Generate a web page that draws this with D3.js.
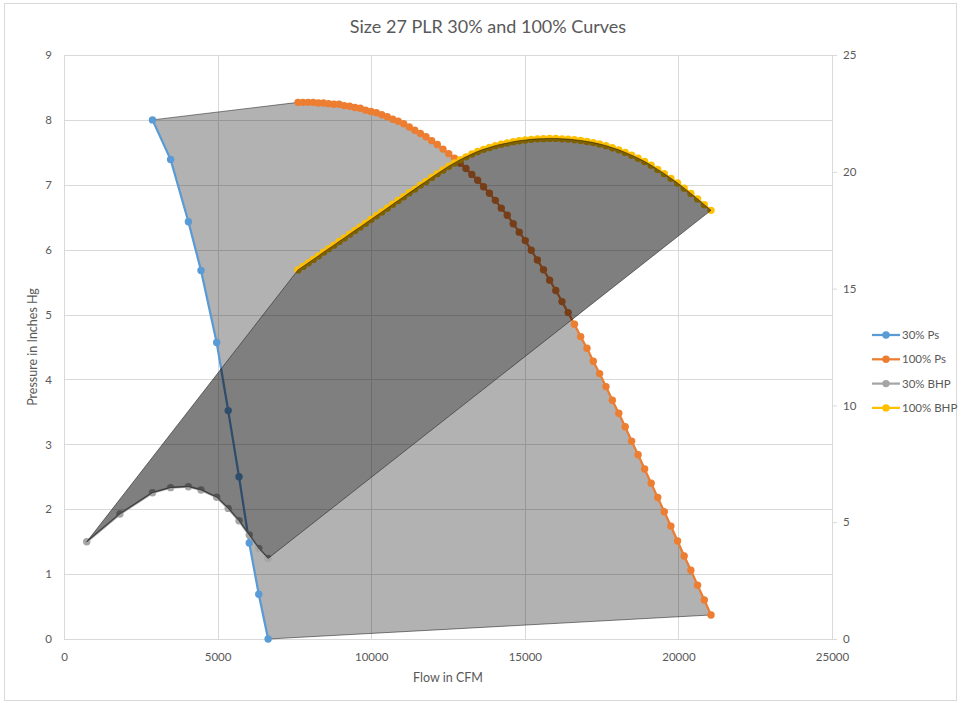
<!DOCTYPE html>
<html><head><meta charset="utf-8">
<script src="https://cdn.jsdelivr.net/npm/d3@7"></script>
<style>body{margin:0;background:#fff;} text{font-family:Lato,"Open Sans",sans-serif;}</style>
</head><body><svg id="c" width="962" height="703"></svg>
<script>
// ---- data ----
const xTicks = [0, 5000, 10000, 15000, 20000, 25000];
const yTicksL = [0, 1, 2, 3, 4, 5, 6, 7, 8, 9];
const yTicksR = [0, 5, 10, 15, 20, 25];
const seriesNames = ["30% Ps", "100% Ps", "30% BHP", "100% BHP"];
const seriesColors = ["#5B9BD5", "#ED7D31", "#A5A5A5", "#FFC000"];

const flow30 = [740, 1820, 2880, 3470, 4050, 4460, 4970, 5345, 5697, 6030, 6340, 6645];
const ps30   = [null, null, 8.00, 7.39, 6.43, 5.68, 4.57, 3.52, 2.50, 1.48, 0.69, 0.00];
const bhp30  = [4.16, 5.35, 6.26, 6.48, 6.52, 6.38, 6.07, 5.59, 5.06, 4.45, 3.88, 3.45];

const flow100 = [7617,7781,7947,8113,8279,8447,8615,8785,8955,9126,
  9297,9470,9643,9817,9992,10167,10344,10521,10699,10878,
  11057,11238,11419,11601,11784,11968,12152,12337,12523,12710,
  12898,13086,13276,13466,13657,13848,14041,14234,14428,14623,
  14819,15015,15212,15410,15609,15809,16009,16211,16413,16616,
  16819,17024,17229,17435,17642,17850,18059,18268,18478,18689,
  18901,19113,19327,19541,19756,19972,20188,20406,20624,20843,21061];
const ps100 = [8.27,8.27,8.27,8.27,8.26,8.26,8.25,8.24,8.24,8.22,
  8.21,8.19,8.18,8.15,8.13,8.11,8.08,8.05,8.01,7.98,
  7.94,7.89,7.84,7.79,7.74,7.68,7.62,7.55,7.48,7.41,
  7.33,7.25,7.16,7.07,6.97,6.87,6.76,6.64,6.53,6.40,
  6.27,6.14,5.99,5.84,5.69,5.53,5.37,5.20,5.03,4.85,
  4.66,4.48,4.28,4.09,3.89,3.68,3.48,3.27,3.05,2.84,
  2.62,2.40,2.18,1.96,1.74,1.51,1.28,1.06,0.83,0.60,0.37];
const bhp100 = [15.80,15.95,16.10,16.25,16.40,16.56,16.71,16.86,17.02,17.17,
  17.33,17.49,17.64,17.80,17.96,18.12,18.28,18.44,18.61,18.77,
  18.93,19.10,19.26,19.43,19.59,19.76,19.92,20.08,20.24,20.38,
  20.52,20.64,20.76,20.87,20.96,21.04,21.12,21.18,21.23,21.29,
  21.33,21.36,21.39,21.41,21.42,21.43,21.43,21.41,21.40,21.37,
  21.34,21.30,21.25,21.19,21.12,21.03,20.94,20.83,20.71,20.58,
  20.44,20.28,20.10,19.92,19.72,19.52,19.30,19.07,18.84,18.59,18.35];

// ---- chart ----
const svg = d3.select("#c");
svg.append("rect").attr("x",4.5).attr("y",3.5).attr("width",952).attr("height",697)
  .attr("fill","#fff").attr("stroke","#d9d9d9").attr("stroke-width",1);

const x = d3.scaleLinear().domain([0,25000]).range([64,832]);
const yL = d3.scaleLinear().domain([0,9]).range([639,55]);
const yR = d3.scaleLinear().domain([0,25]).range([639,55]);

const grid = svg.append("g").attr("stroke","#d9d9d9").attr("stroke-width",1);
grid.selectAll("line.h").data(yTicksL).join("line").attr("class","h")
  .attr("x1",x(0)).attr("x2",x(25000)).attr("y1",d=>Math.round(yL(d))+0.5).attr("y2",d=>Math.round(yL(d))+0.5);
grid.selectAll("line.v").data(xTicks).join("line").attr("class","v")
  .attr("y1",yL(9)).attr("y2",yL(0)).attr("x1",d=>Math.round(x(d))+0.5).attr("x2",d=>Math.round(x(d))+0.5);

const s30 = flow30.map((f,i)=>({f,p:ps30[i],b:bhp30[i]}));
const s100 = flow100.map((f,i)=>({f,p:ps100[i],b:bhp100[i]}));
const ps30pts = s30.filter(d=>d.p!==null);

// polygons
const lightPts = ps30pts.map(d=>[x(d.f),yL(d.p)]).concat(s100.slice().reverse().map(d=>[x(d.f),yL(d.p)]));
const darkPts = s30.map(d=>[x(d.f),yR(d.b)]).concat(s100.slice().reverse().map(d=>[x(d.f),yR(d.b)]));
const poly = pts => "M" + pts.map(p=>p.join(",")).join("L") + "Z";

const defs = svg.append("defs");
const mask = defs.append("mask").attr("id","darkMask").attr("maskUnits","userSpaceOnUse")
  .attr("x",0).attr("y",0).attr("width",962).attr("height",703);
mask.append("rect").attr("width",962).attr("height",703).attr("fill","#fff");
mask.append("path").attr("d",poly(darkPts)).attr("fill","#000");

svg.append("path").attr("d",poly(lightPts)).attr("mask","url(#darkMask)")
  .attr("fill","rgba(0,0,0,0.3)").attr("stroke","rgba(0,0,0,0.6)").attr("stroke-width",0.8);

// axes
const axB = svg.append("g").attr("transform",`translate(0,${yL(0)})`)
  .call(d3.axisBottom(x).tickValues(xTicks).tickFormat(d3.format("d")).tickSize(0).tickPadding(14));
const axL = svg.append("g").attr("transform",`translate(${x(0)},0)`)
  .call(d3.axisLeft(yL).tickValues(yTicksL).tickFormat(d3.format("d")).tickSize(0).tickPadding(12));
const axR = svg.append("g").attr("transform",`translate(${x(25000)},0)`)
  .call(d3.axisRight(yR).tickValues(yTicksR).tickFormat(d3.format("d")).tickSize(5).tickSizeOuter(0).tickPadding(6));
[axB,axL,axR].forEach(a=>{
  a.selectAll("text").attr("fill","#595959").style("font-size","11.5px").style("font-family","Lato");
  a.select(".domain").attr("stroke","#d9d9d9");
  a.selectAll(".tick line").attr("stroke","#d9d9d9");
});
axB.select(".domain").remove(); axL.select(".domain").remove();

// series
function drawSeries(data, yS, key, color){
  const g = svg.append("g");
  g.append("path").datum(data).attr("fill","none").attr("stroke",color).attr("stroke-width",2.25)
    .attr("stroke-linejoin","round")
    .attr("d", d3.line().x(d=>x(d.f)).y(d=>yS(d[key])));
  g.selectAll("circle").data(data).join("circle")
    .attr("cx",d=>x(d.f)).attr("cy",d=>yS(d[key])).attr("r",3.7).attr("fill",color);
}
drawSeries(ps30pts, yL, "p", seriesColors[0]);
drawSeries(s100, yL, "p", seriesColors[1]);
drawSeries(s30, yR, "b", seriesColors[2]);
drawSeries(s100, yR, "b", seriesColors[3]);

// dark polygon on top
svg.append("path").attr("d",poly(darkPts))
  .attr("fill","rgba(0,0,0,0.5)").attr("stroke","rgba(0,0,0,0.6)").attr("stroke-width",0.8);

// title and axis titles
svg.append("text").attr("x",488).attr("y",33).attr("text-anchor","middle")
  .attr("fill","#595959").style("font-size","18px").text("Size 27 PLR 30% and 100% Curves");
svg.append("text").attr("x",448).attr("y",682).attr("text-anchor","middle")
  .attr("fill","#595959").style("font-size","12.5px").text("Flow in CFM");
svg.append("text").attr("transform","translate(37,347) rotate(-90)").attr("text-anchor","middle")
  .attr("fill","#595959").style("font-size","12.5px").text("Pressure in Inches Hg");

// legend
const leg = svg.append("g");
seriesNames.forEach((n,i)=>{
  const yy = 335 + i*24.3;
  leg.append("line").attr("x1",872).attr("x2",900).attr("y1",yy).attr("y2",yy)
    .attr("stroke",seriesColors[i]).attr("stroke-width",2.25);
  leg.append("circle").attr("cx",886).attr("cy",yy).attr("r",3.7).attr("fill",seriesColors[i]);
  leg.append("text").attr("x",902).attr("y",yy).attr("dy","0.35em")
    .attr("fill","#595959").style("font-size","11.5px").text(n);
});
</script></body></html>
